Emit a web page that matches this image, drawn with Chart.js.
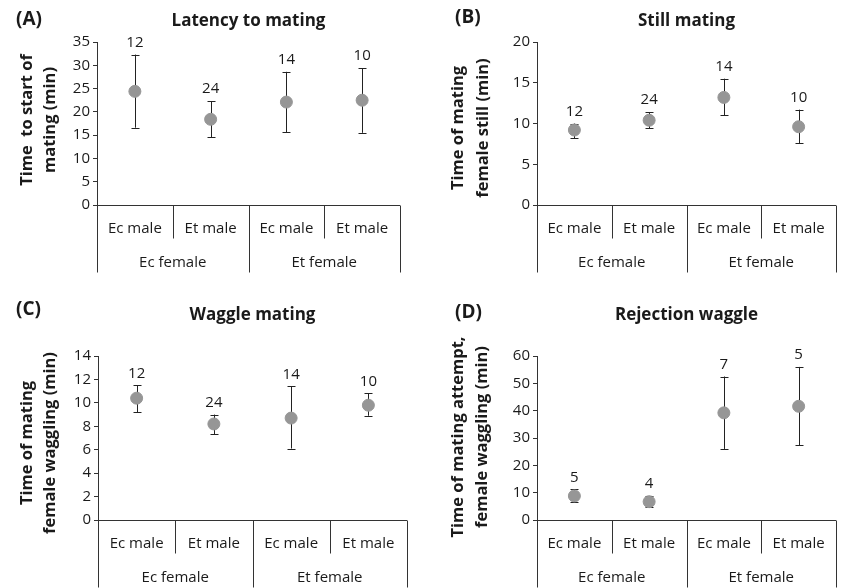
<!DOCTYPE html>
<html lang="en">
<head>
    <meta charset="UTF-8">
    <title>Mating behaviour</title>
    <script src="https://cdn.jsdelivr.net/npm/chart.js"></script>
    <style>
        body { margin: 0; background: #fff; }
        #wrap { position: relative; width: 843px; height: 588px; overflow: hidden; }
        canvas { position: absolute; }
    </style>
</head>
<body>
    <div id="wrap">
        <canvas id="chartA"></canvas>
        <canvas id="chartB"></canvas>
        <canvas id="chartC"></canvas>
        <canvas id="chartD"></canvas>
    </div>
    <script>
        const males = ['Ec male', 'Et male', 'Ec male', 'Et male'];
        const females = ['Ec female', 'Et female'];

        // panel A - latency to mating
        const latencyMean = [24.4, 18.4, 22.1, 22.5];
        const latencyLow = [16.6, 14.6, 15.6, 15.5];
        const latencyHigh = [32.3, 22.3, 28.6, 29.4];
        const latencyN = [12, 24, 14, 10];

        // panel B - still mating
        const stillMean = [9.2, 10.4, 13.2, 9.6];
        const stillLow = [8.2, 9.4, 11.0, 7.6];
        const stillHigh = [10.0, 11.4, 15.5, 11.7];
        const stillN = [12, 24, 14, 10];

        // panel C - waggle mating
        const waggleMean = [10.4, 8.2, 8.7, 9.8];
        const waggleLow = [9.2, 7.3, 6.1, 8.9];
        const waggleHigh = [11.5, 9.0, 11.4, 10.8];
        const waggleN = [12, 24, 14, 10];

        // panel D - rejection waggle
        const rejectMean = [8.8, 6.7, 39.2, 41.6];
        const rejectLow = [6.5, 4.6, 26.0, 27.3];
        const rejectHigh = [11.2, 8.8, 52.5, 56.0];
        const rejectN = [5, 4, 7, 5];

        const FONT = '"Open Sans", "DejaVu Sans", sans-serif';
        const TEXT = '#1a1a1a';

        const panelPlugin = {
            id: 'panel',
            beforeDatasetsDraw(chart) {
                const o = chart.options.plugins.panel;
                const { ctx, scales: { x, y } } = chart;
                ctx.save();
                ctx.strokeStyle = '#222';
                ctx.lineWidth = 1;
                o.low.forEach((lo, i) => {
                    const px = Math.round(x.getPixelForValue(i + 0.5)) + 0.5;
                    const y1 = y.getPixelForValue(lo), y2 = y.getPixelForValue(o.high[i]);
                    ctx.beginPath();
                    ctx.moveTo(px, y1); ctx.lineTo(px, y2);
                    ctx.moveTo(px - 4, Math.round(y1) + 0.5); ctx.lineTo(px + 4, Math.round(y1) + 0.5);
                    ctx.moveTo(px - 4, Math.round(y2) + 0.5); ctx.lineTo(px + 4, Math.round(y2) + 0.5);
                    ctx.stroke();
                });
                ctx.restore();
            },
            afterDraw(chart) {
                const o = chart.options.plugins.panel;
                const { ctx, chartArea: a, scales: { x, y } } = chart;
                ctx.save();
                // category table under the x axis
                const y0 = Math.round(y.getPixelForValue(0)) + 0.5;
                ctx.strokeStyle = '#333';
                ctx.lineWidth = 1;
                ctx.beginPath();
                ctx.moveTo(a.left, y0); ctx.lineTo(a.right, y0);
                for (let i = 0; i <= 4; i++) {
                    const px = Math.round(x.getPixelForValue(i)) + 0.5;
                    ctx.moveTo(px, y0);
                    ctx.lineTo(px, y0 + (i % 2 === 0 ? o.row2 : o.row1));
                }
                ctx.stroke();
                ctx.fillStyle = TEXT;
                ctx.font = '15px ' + FONT;
                ctx.textAlign = 'center';
                ctx.textBaseline = 'middle';
                males.forEach((m, i) => ctx.fillText(m, x.getPixelForValue(i + 0.5), y0 + 23));
                females.forEach((f, i) => ctx.fillText(f, x.getPixelForValue(i * 2 + 1), y0 + 57));
                // sample sizes
                o.n.forEach((n, i) => ctx.fillText(String(n), x.getPixelForValue(i + 0.5), y.getPixelForValue(o.high[i]) - 12));
                // titles
                ctx.font = 'bold 17px ' + FONT;
                ctx.fillText(o.title, (a.left + a.right) / 2, o.titleY);
                ctx.font = 'bold 19px ' + FONT;
                ctx.textAlign = 'left';
                ctx.fillText(o.tag, o.tagX, o.tagY);
                // y axis title (two lines, rotated)
                ctx.font = 'bold 16.5px ' + FONT;
                ctx.textAlign = 'center';
                o.yTitle.forEach((t, i) => {
                    ctx.save();
                    ctx.translate(o.yTitleX[i], o.yTitleY);
                    ctx.rotate(-Math.PI / 2);
                    ctx.fillText(t, 0, 0);
                    ctx.restore();
                });
                ctx.restore();
            }
        };

        function makePanel(id, box, cfg) {
            const canvas = document.getElementById(id);
            canvas.style.left = box.left + 'px';
            canvas.style.top = box.top + 'px';
            canvas.width = box.width;
            canvas.height = box.height;
            return new Chart(canvas, {
                type: 'scatter',
                data: {
                    datasets: [{
                        data: cfg.mean.map((v, i) => ({ x: i + 0.5, y: v })),
                        backgroundColor: '#969696',
                        borderColor: '#969696',
                        pointRadius: 6,
                        pointHoverRadius: 6
                    }]
                },
                options: {
                    responsive: false,
                    animation: false,
                    layout: { padding: { left: 0, top: box.plotTop, right: box.width - box.plotRight, bottom: box.height - box.plotBottom } },
                    scales: {
                        x: { type: 'linear', min: 0, max: 4, display: false },
                        y: {
                            min: 0, max: cfg.max,
                            ticks: { stepSize: cfg.step, color: TEXT, font: { family: FONT, size: 15 }, padding: 3 },
                            grid: { drawOnChartArea: false, drawTicks: true, tickLength: 4, color: '#333' },
                            border: { display: true, color: '#333' },
                            afterFit: s => { s.width = box.plotLeft; }
                        }
                    },
                    plugins: {
                        legend: { display: false },
                        tooltip: { enabled: false },
                        panel: {
                            low: cfg.low, high: cfg.high, n: cfg.n,
                            title: cfg.title, titleY: cfg.titleY,
                            tag: cfg.tag, tagX: cfg.tagX, tagY: cfg.tagY,
                            yTitle: cfg.yTitle, yTitleX: cfg.yTitleX, yTitleY: cfg.yTitleY,
                            row1: 33, row2: 67
                        }
                    }
                },
                plugins: [panelPlugin]
            });
        }

        makePanel('chartA', { left: 0, top: 0, width: 421, height: 290, plotLeft: 97, plotRight: 400, plotTop: 42, plotBottom: 205 }, {
            mean: latencyMean, low: latencyLow, high: latencyHigh, n: latencyN, max: 35, step: 5,
            title: 'Latency to mating', titleY: 21, tag: '(A)', tagX: 16, tagY: 20,
            yTitle: ['Time  to start of', 'mating (min)'], yTitleX: [27, 50], yTitleY: 120
        });
        makePanel('chartB', { left: 421, top: 0, width: 422, height: 290, plotLeft: 116, plotRight: 422, plotTop: 42, plotBottom: 205 }, {
            mean: stillMean, low: stillLow, high: stillHigh, n: stillN, max: 20, step: 5,
            title: 'Still mating', titleY: 21, tag: '(B)', tagX: 34, tagY: 18,
            yTitle: ['Time of mating', 'female still (min)'], yTitleX: [37, 62], yTitleY: 128
        });
        makePanel('chartC', { left: 0, top: 295, width: 421, height: 293, plotLeft: 98, plotRight: 407, plotTop: 61, plotBottom: 225 }, {
            mean: waggleMean, low: waggleLow, high: waggleHigh, n: waggleN, max: 14, step: 2,
            title: 'Waggle mating', titleY: 20, tag: '(C)', tagX: 16, tagY: 15,
            yTitle: ['Time of mating', 'female waggling (min)'], yTitleX: [27, 50], yTitleY: 148
        });
        makePanel('chartD', { left: 421, top: 295, width: 422, height: 293, plotLeft: 116, plotRight: 416, plotTop: 61, plotBottom: 225 }, {
            mean: rejectMean, low: rejectLow, high: rejectHigh, n: rejectN, max: 60, step: 10,
            title: 'Rejection waggle', titleY: 20, tag: '(D)', tagX: 34, tagY: 18,
            yTitle: ['Time of mating attempt,', 'female waggling (min)'], yTitleX: [37, 61], yTitleY: 142
        });
    </script>
</body>
</html>
